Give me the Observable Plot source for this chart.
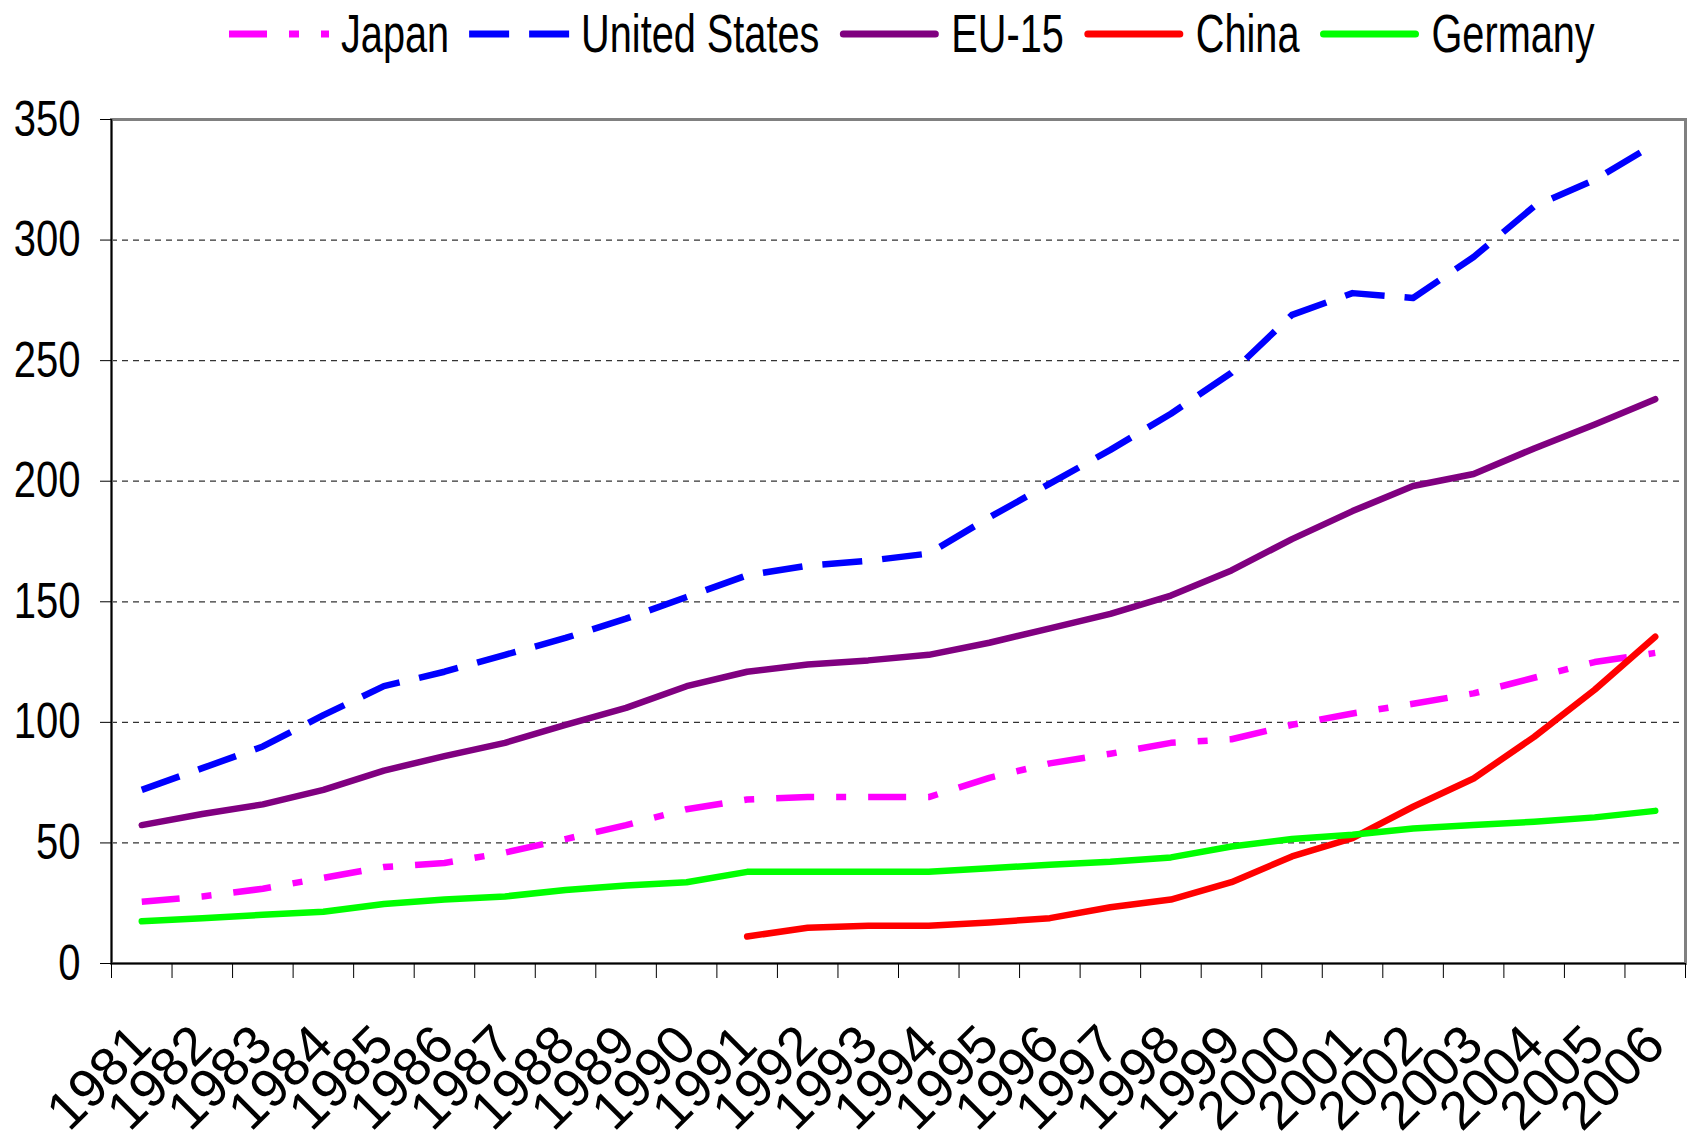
<!DOCTYPE html>
<html>
<head>
<meta charset="utf-8">
<script src="https://cdn.jsdelivr.net/npm/d3@7"></script>
<script src="https://cdn.jsdelivr.net/npm/@observablehq/plot@0.6"></script>
<style>
  html, body { margin: 0; padding: 0; background: #fff; }
  #legend { display: block; }
</style>
</head>
<body>
<svg id="legend" width="1696" height="70"></svg>
<div id="chart"></div>
<script>
const years = d3.range(1981, 2007);
const seriesNames = ["Japan", "United States", "EU-15", "China", "Germany"];
const colors = ["#FF00FF", "#0000FF", "#800080", "#FF0000", "#00FF00"];
const dashes = ["38,22,10,22", "40,20", null, null, null];

const japan = [25.6, 27.8, 31, 35.5, 40, 41.7, 46, 51.6, 57.4, 64, 68, 69, 69, 69, 77, 83, 87, 91.5, 93, 99, 103.7, 107.7, 112, 118.5, 125, 128.8];
const unitedStates = [72, 81, 90, 103, 115, 121, 128, 135, 143, 152, 161, 165, 167, 170, 185, 199, 213, 228, 245, 269, 278, 276, 293, 314, 325, 340];
const eu15 = [57.4, 62, 66, 72, 80, 86, 91.5, 99, 106, 115, 121, 124, 125.7, 128, 133, 139, 145, 152.6, 163, 176, 187.6, 198, 203, 213.6, 223.5, 234];
const chinaYears = d3.range(1991, 2007);
const china = [11.2, 14.8, 15.7, 15.7, 17, 18.8, 23.3, 26.5, 33.7, 44.4, 52, 65, 76.7, 94, 113.5, 135.5];
const germany = [17.5, 18.8, 20.2, 21.5, 24.7, 26.5, 27.8, 30.5, 32.3, 33.7, 38, 38, 38, 38, 39.5, 41, 42.2, 44, 48.5, 51.6, 53.4, 56, 57.4, 58.8, 60.6, 63.3];
const yTicks = [0, 50, 100, 150, 200, 250, 300, 350];
const gridTicks = [50, 100, 150, 200, 250, 300];

const seriesData = [
  {name: "Japan", x: years, y: japan},
  {name: "United States", x: years, y: unitedStates},
  {name: "EU-15", x: years, y: eu15},
  {name: "China", x: chinaYears, y: china},
  {name: "Germany", x: years, y: germany}
];
const boundaries = years.map(y => y - 0.5).concat([years[years.length - 1] + 0.5]);

const regular = '"Liberation Sans", Arial, sans-serif';

// Legend (condensed text like the original)
const legendSvg = d3.select("#legend");
let cursor = 229;
const legendScale = 0.735;
seriesNames.forEach((n, i) => {
  const round = !dashes[i];
  legendSvg.append("line")
    .attr("x1", cursor + (round ? 4 : 0)).attr("x2", cursor + (round ? 96 : 100))
    .attr("y1", 34).attr("y2", 34)
    .attr("stroke", colors[i]).attr("stroke-width", 7)
    .attr("stroke-linecap", round ? "round" : "butt")
    .attr("stroke-dasharray", dashes[i] || null);
  const tx = cursor + 112;
  const t = legendSvg.append("text")
    .attr("transform", `translate(${tx},52) scale(${legendScale},1)`)
    .attr("font-family", regular).attr("font-size", 54).attr("fill", "#000")
    .text(n);
  const len = t.node().getComputedTextLength() * legendScale;
  cursor = tx + len + 20;
});

const marks = [
  Plot.ruleY(gridTicks, {stroke: "#333", strokeWidth: 1.2, strokeDasharray: "6,5"}),
  Plot.frame({stroke: "#808080", strokeWidth: 3}),
  Plot.ruleX([boundaries[0]], {stroke: "#000", strokeWidth: 1.5}),
  Plot.ruleY([0], {stroke: "#000", strokeWidth: 1.5}),
  Plot.axisY({ticks: yTicks, tickSize: 11, tickPadding: 20, fontSize: 50, label: null}),
  Plot.axisX({ticks: boundaries, tickFormat: () => "", tickSize: 15, label: null}),
  Plot.axisX({ticks: years, tickFormat: d => String(d), tickSize: 0, tickPadding: 72, tickRotate: -45, fontSize: 54, label: null})
];
seriesData.forEach((s, i) => {
  const data = s.x.map((x, j) => ({year: x, value: s.y[j]}));
  marks.push(Plot.line(data, {
    x: "year", y: "value", stroke: colors[i], strokeWidth: 6.5,
    strokeDasharray: dashes[i] || undefined,
    strokeLinecap: dashes[i] ? "butt" : "round",
    strokeLinejoin: "round"
  }));
});

const chart = Plot.plot({
  width: 1696,
  height: 1066,
  marginLeft: 111,
  marginRight: 11,
  marginTop: 49,
  marginBottom: 173,
  x: {type: "linear", domain: [boundaries[0], boundaries[boundaries.length - 1]]},
  y: {domain: [0, 350]},
  style: {fontFamily: regular, color: "#000", background: "#fff", overflow: "visible"},
  marks
});
document.getElementById("chart").appendChild(chart);

// Condense y tick labels horizontally, anchored at their right end
d3.select(chart).selectAll('g[aria-label="y-axis tick label"] text').each(function() {
  const b = this.getBBox();
  const ax = b.x + b.width;
  const existing = this.getAttribute("transform") || "";
  this.setAttribute("transform", `${existing} translate(${ax},0) scale(0.8,1) translate(${-ax},0)`);
});
</script>
</body>
</html>
